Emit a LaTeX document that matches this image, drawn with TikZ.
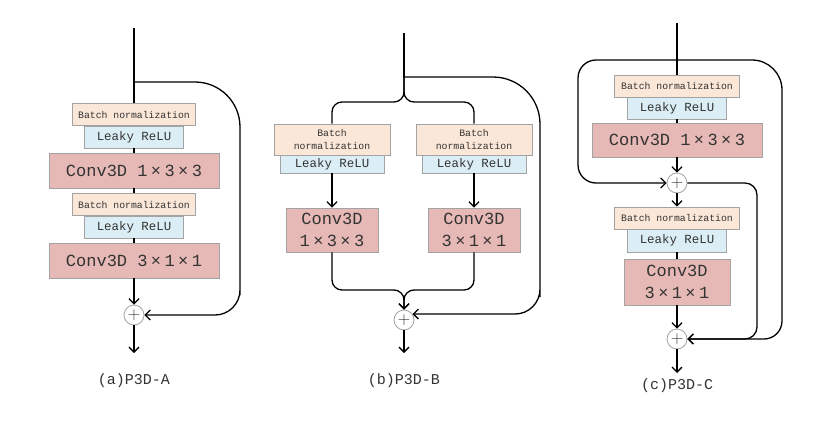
\documentclass[tikz,border=0pt]{standalone}
\usepackage{fontspec}
\setmonofont{Liberation Mono}
\usepackage{tikz}
\usetikzlibrary{arrows.meta}

\definecolor{bnfill}{HTML}{FBE7D8}
\definecolor{relufill}{HTML}{DBEEF5}
\definecolor{convfill}{HTML}{E6B9B6}
\definecolor{boxline}{HTML}{A3A3A3}
\definecolor{txt}{HTML}{333333}

\newcommand{\tms}{\hspace{.2em}×\hspace{.2em}}

\tikzset{
  blk/.style={draw=boxline,line width=0.8pt,text=txt,inner sep=0pt,align=center},
  bnbox/.style={blk,fill=bnfill,minimum width=123pt,minimum height=22pt,font=\ttfamily\fontsize{9.8}{13}\selectfont},
  relubox/.style={blk,fill=relufill,minimum width=99pt,minimum height=22pt,font=\ttfamily\fontsize{12.4}{13}\selectfont},
  convbox/.style={blk,fill=convfill,minimum width=170pt,minimum height=35pt,font=\ttfamily\fontsize{17}{22}\selectfont},
  addnode/.style={circle,draw=boxline,fill=white,line width=0.8pt,minimum size=20pt,inner sep=0pt,text=txt,font=\fontsize{16}{16}\selectfont},
  wire/.style={line width=1.3pt},
  flow/.style={wire,-{Straight Barb[length=5pt,width=10pt]}},
  capt/.style={text=txt,font=\ttfamily\fontsize{15}{16}\selectfont}
}

\begin{document}
\begin{tikzpicture}[x=1pt,y=-1pt]
  \useasboundingbox (0,0) rectangle (836,426);

  % (a) P3D-A
  \coordinate (inA) at (134,28);
  \coordinate (skA) at (134,82);
  \foreach \k/\dy/\ker in {1/0/1\tms3\tms3,2/90/3\tms1\tms1}{
    \node[bnbox] (bnA\k) at (134,114.5+\dy) {Batch normalization};
    \node[relubox] (reluA\k) at (134,137+\dy) {Leaky ReLU};
    \node[convbox] (convA\k) at (134,170.5+\dy) {Conv3D \ker};
    \draw[wire] (reluA\k) -- (convA\k);
  }
  \node[addnode] (addA) at (134,315) {$+$};
  \coordinate (outA) at (134,353);
  \draw[wire] (inA) -- (bnA1);
  \draw[wire] (convA1) -- (bnA2);
  \draw[flow] (convA2) -- (addA);
  \draw[flow] (addA) -- (outA);
  \draw[flow] (skA) [rounded corners=45pt] -| (240,250) [rounded corners=25pt] |- (addA);
  \node[capt] (capA) at (134,381) {(a)P3D-A};

  % (b) P3D-B
  \coordinate (inB) at (404,33);
  \coordinate (skB) at (404,77);
  \node[addnode] (addB) at (404,320) {$+$};
  \coordinate (outB) at (404,353);
  \draw[wire] (inB) -- (skB);
  \foreach \s/\x/\ker in {l/332/1\tms3\tms3,r/474/3\tms1\tms1}{
    \node[bnbox,minimum width=116pt,minimum height=31pt] (bnB\s) at (\x,139.5) {Batch\\normalization};
    \node[relubox,minimum width=104pt,minimum height=18pt] (reluB\s) at (\x,164) {Leaky ReLU};
    \node[convbox,minimum width=92pt,minimum height=44pt] (convB\s) at (\x,230) {Conv3D\\\ker};
    \draw[flow] (reluB\s) -- (convB\s);
    \draw[wire,rounded corners=10pt] (skB) -- (404,102) -- (\x,102) -- (bnB\s);
    \draw[flow,rounded corners=10pt] (convB\s) -- (\x,290) -- (404,290) -- (addB);
  }
  \draw[flow] (skB) [rounded corners=47pt] -| (540,250) [rounded corners=25pt] |- (addB.35);
  \draw[flow] (addB) -- (outB);
  \node[capt] (capB) at (404,381) {(b)P3D-B};

  % (c) P3D-C
  \coordinate (inC) at (677,23);
  \coordinate (skC) at (677,60);
  \node[bnbox,minimum width=125pt] (bnC1) at (677,86) {Batch normalization};
  \node[relubox] (reluC1) at (677,108) {Leaky ReLU};
  \node[convbox,minimum height=34pt] (convC1) at (677,140) {Conv3D 1\tms3\tms3};
  \node[addnode] (addC1) at (677,183) {$+$};
  \node[bnbox,minimum width=125pt] (bnC2) at (677,218) {Batch normalization};
  \node[relubox,minimum height=23pt] (reluC2) at (677,240.5) {Leaky ReLU};
  \node[convbox,minimum width=106pt,minimum height=46pt] (convC2) at (677,282) {Conv3D\\3\tms1\tms1};
  \node[addnode] (addC2) at (677,339) {$+$};
  \coordinate (outC) at (677,373);
  \draw[wire] (inC) -- (bnC1);
  \draw[wire] (reluC1) -- (convC1);
  \draw[flow] (convC1) -- (addC1);
  \draw[flow] (addC1) -- (bnC2);
  \draw[wire] (reluC2) -- (convC2);
  \draw[flow] (convC2) -- (addC2);
  \draw[flow] (addC2) -- (outC);
  \draw[flow,rounded corners=18pt] (skC) -| (578,120) |- (addC1);
  \draw[flow] (skC) [rounded corners=30pt] -| (782,200) [rounded corners=18pt] |- (addC2);
  \draw[flow,rounded corners=12pt] (addC1) -| (757,260) |- (addC2);
  \node[capt] (capC) at (677,386) {(c)P3D-C};
\end{tikzpicture}
\end{document}
